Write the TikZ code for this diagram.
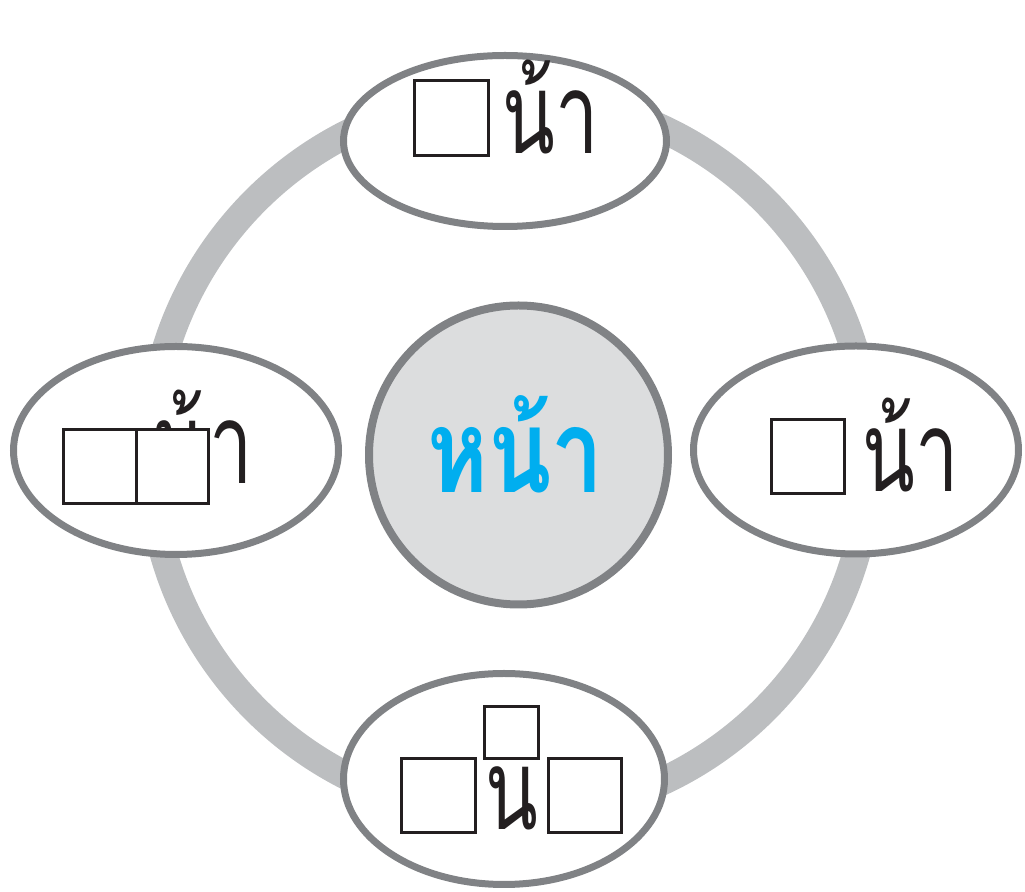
\documentclass[tikz,border=0pt]{standalone}
\usepackage{fontspec}
\newfontfamily\thaifont[Script=Thai,FakeStretch=0.69]{Loma}
\newfontfamily\thaihub[Script=Thai,FakeStretch=0.8]{Loma}
\usetikzlibrary{shapes.geometric}
\definecolor{ringgray}{HTML}{BCBEC0}
\definecolor{edgegray}{HTML}{808285}
\definecolor{hubfill}{HTML}{DCDDDE}
\definecolor{hubcyan}{HTML}{00AEEF}
\definecolor{ink}{HTML}{231F20}
\tikzset{
  bubble/.style={ellipse, draw=edgegray, fill=white, line width=3.5pt, inner sep=0pt},
  blank/.style={rectangle, draw=ink, fill=white, line width=1.4pt, inner sep=0pt},
  thaitxt/.style={inner sep=0pt, text=ink, font=\thaifont\fontsize{56pt}{60pt}\selectfont},
}
\begin{document}
\begin{tikzpicture}[x=0.5pt,y=-0.5pt]
\useasboundingbox (0,0) rectangle (1025,892);
% ring
\draw[ringgray, line width=14pt] (510,455) circle[radius=360];
% hub
\node[circle, draw=edgegray, fill=hubfill, line width=4pt, minimum size=149.5pt, inner sep=0pt] (hub) at (518.5,455) {};
\node[inner sep=0pt, anchor=base west, text=hubcyan, font=\thaihub\bfseries\fontsize{58pt}{62pt}\selectfont] (hubtxt) at (427,493) {หน้า};
% bubbles
\node[bubble, minimum width=161.5pt, minimum height=85.5pt] (top) at (505,141) {};
\node[bubble, minimum width=162.5pt, minimum height=104pt] (left) at (176,450.5) {};
\node[bubble, minimum width=162.5pt, minimum height=104pt] (right) at (856,450) {};
\node[bubble, minimum width=160.5pt, minimum height=105.5pt] (bottom) at (504,779) {};
% top
\node[blank, minimum width=37pt, minimum height=37.5pt, anchor=north west] (tb) at (413,79) {};
\node[thaitxt, anchor=base west] (tt) at (502,154) {น้า};
% right
\node[blank, minimum width=36.5pt, minimum height=37pt, anchor=north west] (rb) at (770,418) {};
\node[thaitxt, anchor=base west] (rt) at (862,492) {น้า};
% left
\node[thaitxt, anchor=base east] (ltone) at (206,484) {น้};
\node[thaitxt, anchor=base west] (lt) at (209,484) {า};
\node[blank, minimum width=36.5pt, minimum height=37pt, anchor=north west] (lb1) at (62,428) {};
\node[blank, minimum width=36pt, minimum height=37pt, anchor=north west] (lb2) at (135,428) {};
% bottom
\node[blank, minimum width=27pt, minimum height=26pt, anchor=north west] (bb0) at (483,705) {};
\node[blank, minimum width=37pt, minimum height=37pt, anchor=north west] (bb1) at (400,757) {};
\node[thaitxt, anchor=base west] (bt) at (485,830) {น};
\node[blank, minimum width=36.5pt, minimum height=37pt, anchor=north west] (bb2) at (547,757) {};
\end{tikzpicture}
\end{document}
